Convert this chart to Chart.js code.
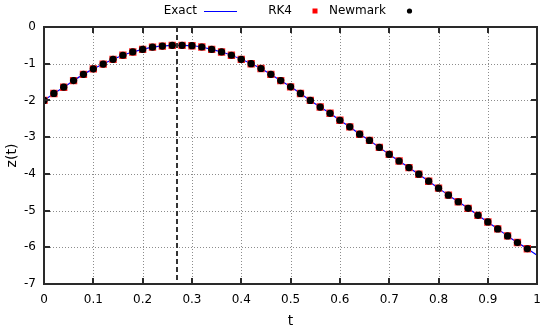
<!DOCTYPE html>
<html>
<head>
<meta charset="utf-8">
<script src="https://cdn.jsdelivr.net/npm/chart.js@4/dist/chart.umd.min.js"></script>
<style>
html,body{margin:0;padding:0;background:#fff;}
#wrap{width:550px;height:334px;position:relative;}
</style>
</head>
<body>
<div id="wrap"><canvas id="c" width="550" height="334"></canvas></div>
<script>
// ---- data ----
const tPoints = [0,0.02,0.04,0.06,0.08,0.10,0.12,0.14,0.16,0.18,0.20,0.22,0.24,0.26,0.28,0.30,0.32,0.34,0.36,0.38,0.40,0.42,0.44,0.46,0.48,0.50,0.52,0.54,0.56,0.58,0.60,0.62,0.64,0.66,0.68,0.70,0.72,0.74,0.76,0.78,0.80,0.82,0.84,0.86,0.88,0.90,0.92,0.94,0.96,0.98];
const zRK4 = [-2.00,-1.81,-1.64,-1.46,-1.29,-1.14,-1.01,-0.88,-0.77,-0.68,-0.61,-0.55,-0.52,-0.50,-0.50,-0.51,-0.545,-0.61,-0.68,-0.77,-0.88,-1.00,-1.13,-1.29,-1.46,-1.63,-1.81,-2.00,-2.18,-2.35,-2.54,-2.72,-2.92,-3.09,-3.28,-3.47,-3.65,-3.83,-4.01,-4.20,-4.39,-4.58,-4.76,-4.94,-5.13,-5.31,-5.50,-5.69,-5.87,-6.04];
const zNewmark = [-2.00,-1.81,-1.64,-1.46,-1.29,-1.14,-1.01,-0.88,-0.77,-0.68,-0.61,-0.55,-0.52,-0.50,-0.50,-0.51,-0.545,-0.61,-0.68,-0.77,-0.88,-1.00,-1.13,-1.29,-1.46,-1.63,-1.81,-2.00,-2.18,-2.35,-2.54,-2.72,-2.92,-3.09,-3.28,-3.47,-3.65,-3.83,-4.01,-4.20,-4.39,-4.58,-4.76,-4.94,-5.13,-5.31,-5.50,-5.69,-5.87,-6.04];
const tExact = [0,0.02,0.04,0.06,0.08,0.10,0.12,0.14,0.16,0.18,0.20,0.22,0.24,0.26,0.28,0.30,0.32,0.34,0.36,0.38,0.40,0.42,0.44,0.46,0.48,0.50,0.52,0.54,0.56,0.58,0.60,0.62,0.64,0.66,0.68,0.70,0.72,0.74,0.76,0.78,0.80,0.82,0.84,0.86,0.88,0.90,0.92,0.94,0.96,0.98,1.00];
const zExact = [-2.00,-1.81,-1.64,-1.46,-1.29,-1.14,-1.01,-0.88,-0.77,-0.68,-0.61,-0.55,-0.52,-0.50,-0.50,-0.51,-0.545,-0.61,-0.68,-0.77,-0.88,-1.00,-1.13,-1.29,-1.46,-1.63,-1.81,-2.00,-2.18,-2.35,-2.54,-2.72,-2.92,-3.09,-3.28,-3.47,-3.65,-3.83,-4.01,-4.20,-4.39,-4.58,-4.76,-4.94,-5.13,-5.31,-5.50,-5.69,-5.87,-6.04,-6.22];
const tMax = 0.27;
const seriesNames = ['Exact','RK4','Newmark'];
const xTitle = 't';
const yTitle = 'z(t)';

const FONT = 'DejaVu Sans';
const pts = (xs, ys) => xs.map((x, i) => ({x: x, y: ys[i]}));

// dotted grid under the data, placed through the scales
const gridPlugin = {
  id: 'dotgrid',
  beforeDatasetsDraw(chart) {
    const ctx = chart.ctx;
    const a = chart.chartArea;
    const xs = chart.scales.x, ys = chart.scales.y;
    ctx.save();
    ctx.fillStyle = '#8c8c8c';
    xs.ticks.forEach(t => {
      const px = Math.round(xs.getPixelForValue(t.value));
      for (let y = Math.round(a.top); y < a.bottom; y += 3) ctx.fillRect(px, y, 1, 1);
    });
    ys.ticks.forEach(t => {
      const py = Math.round(ys.getPixelForValue(t.value));
      for (let x = Math.round(a.left); x < a.right; x += 3) ctx.fillRect(x, py, 1, 1);
    });
    ctx.restore();
  }
};

const framePlugin = {
  id: 'frame',
  afterDraw(chart) {
    const ctx = chart.ctx;
    const a = chart.chartArea;
    const xs = chart.scales.x, ys = chart.scales.y;
    const L = Math.round(a.left), R = Math.round(a.right), T = Math.round(a.top), B = Math.round(a.bottom);
    ctx.save();
    // dashed vertical marker line
    const xm = Math.round(xs.getPixelForValue(tMax));
    ctx.fillStyle = '#333333';
    for (let y = T; y < B; y += 8) ctx.fillRect(xm - 1, y, 2, Math.min(5, B - y));
    // frame
    ctx.fillStyle = '#2a2a2a';
    ctx.fillRect(L - 1, T - 1, R - L + 2, 2);
    ctx.fillRect(L - 1, B - 1, R - L + 2, 2);
    ctx.fillRect(L - 1, T - 1, 2, B - T + 2);
    ctx.fillRect(R - 1, T - 1, 2, B - T + 2);
    // inward ticks on all four sides
    const TL = 6;
    xs.ticks.forEach(t => {
      const px = Math.round(xs.getPixelForValue(t.value));
      ctx.fillRect(px - 1, B - TL, 2, TL);
      ctx.fillRect(px - 1, T, 2, TL);
    });
    ys.ticks.forEach(t => {
      const py = Math.round(ys.getPixelForValue(t.value));
      ctx.fillRect(L, py - 1, TL, 2);
      ctx.fillRect(R - TL, py - 1, TL, 2);
    });
    // legend (gnuplot style: text, then sample)
    ctx.font = '12px "' + FONT + '"';
    ctx.fillStyle = '#000';
    ctx.textAlign = 'right';
    ctx.textBaseline = 'middle';
    const ly = 11;
    ctx.fillText(seriesNames[0], 197, ly);
    ctx.fillText(seriesNames[1], 292, ly);
    ctx.fillText(seriesNames[2], 386, ly);
    ctx.fillStyle = '#0000ff';
    ctx.fillRect(204, ly, 33, 1);
    ctx.fillStyle = '#ff0000';
    ctx.fillRect(312.5, ly - 2.5, 5, 5);
    ctx.fillStyle = '#000';
    ctx.beginPath();
    ctx.arc(409.5, ly, 2.6, 0, Math.PI * 2);
    ctx.fill();
    ctx.restore();
  }
};

new Chart(document.getElementById('c'), {
  type: 'scatter',
  data: {
    datasets: [
      {label: seriesNames[0], data: pts(tExact, zExact), showLine: true, borderColor: '#0000ff', borderWidth: 1.2, pointRadius: 0, order: 3, tension: 0.3},
      {label: seriesNames[1], data: pts(tPoints, zRK4), showLine: false, pointStyle: 'rect', pointRadius: 5.2, backgroundColor: '#ff2020', borderWidth: 0, order: 2},
      {label: seriesNames[2], data: pts(tPoints, zNewmark), showLine: false, pointStyle: 'circle', pointRadius: 3.6, backgroundColor: '#000000', borderWidth: 0, order: 1}
    ]
  },
  options: {
    responsive: false,
    animation: false,
    devicePixelRatio: 1,
    layout: {padding: {top: 27, right: 11, left: 0, bottom: 0}},
    plugins: {legend: {display: false}, tooltip: {enabled: false}},
    scales: {
      x: {
        type: 'linear', min: 0, max: 1,
        ticks: {stepSize: 0.1, padding: 9, color: '#000', font: {family: FONT, size: 12}, maxRotation: 0,
          callback: v => String(Number(v.toFixed(1)))},
        grid: {display: false, drawTicks: false},
        border: {display: true, color: '#2a2a2a', width: 2},
        title: {display: true, text: xTitle, color: '#000', font: {family: FONT, size: 14}, padding: {top: 0, bottom: 4}},
        afterFit(s) { s.height = 50; }
      },
      y: {
        type: 'linear', min: -7, max: 0,
        ticks: {stepSize: 1, padding: 8, color: '#000', font: {family: FONT, size: 12}},
        grid: {display: false, drawTicks: false},
        border: {display: true, color: '#2a2a2a', width: 2},
        title: {display: true, text: yTitle, color: '#000', font: {family: FONT, size: 14}, padding: {top: 4, bottom: 0}},
        afterFit(s) { s.width = 44; }
      }
    }
  },
  plugins: [gridPlugin, framePlugin]
});
</script>
</body>
</html>
